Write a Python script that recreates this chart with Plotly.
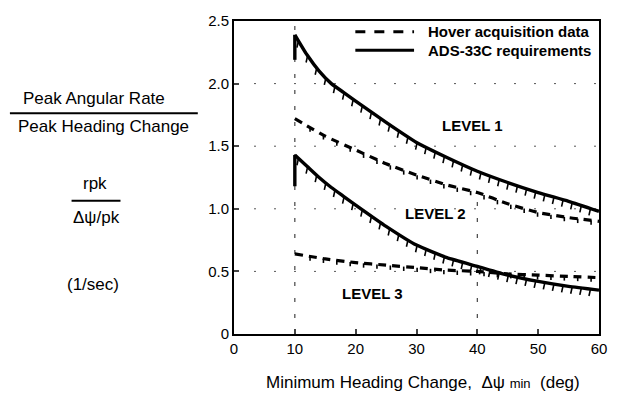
import numpy as np
import plotly.graph_objects as go

# ---- data ----
req_x = [10, 12, 14, 16, 18, 20, 25, 30, 35, 40, 45, 50, 55, 60]
level1_req = [2.39, 2.23, 2.10, 2.00, 1.93, 1.86, 1.69, 1.53, 1.41, 1.30, 1.21, 1.13, 1.06, 0.98]
level2_req = [1.43, 1.34, 1.25, 1.17, 1.10, 1.03, 0.86, 0.71, 0.61, 0.54, 0.47, 0.42, 0.38, 0.35]
level1_start = 2.19
level2_start = 1.18

hover_x = [10, 15, 20, 25, 30, 35, 40, 45, 50, 55, 60]
hover_upper = [1.72, 1.58, 1.47, 1.36, 1.27, 1.19, 1.13, 1.04, 0.97, 0.93, 0.90]
hover_lower = [0.64, 0.60, 0.57, 0.55, 0.53, 0.51, 0.50, 0.48, 0.47, 0.46, 0.45]

x_ticks = [0, 10, 20, 30, 40, 50, 60]
y_ticks = [0, 0.5, 1.0, 1.5, 2.0, 2.5]
y_tick_text = ["0", "0.5", "1.0", "1.5", "2.0", "2.5"]

FONT = "Liberation Sans, Arial, sans-serif"
fig = go.Figure()


def hatch(xs, ys, step, length, x0=10.6, x1=60, slant=0.25):
    hx, hy = [], []
    for xv in np.arange(x0, x1 + 0.01, step):
        yv = float(np.interp(xv, xs, ys))
        hx += [xv, xv - slant, None]
        hy += [yv, yv - length, None]
    return hx, hy


# requirement curves (solid, with hatching)
for start, vals in [(level1_start, level1_req), (level2_start, level2_req)]:
    fig.add_trace(go.Scatter(x=[req_x[0], req_x[0]], y=[start, vals[0]], mode="lines",
                             line=dict(color="black", width=3.4),
                             showlegend=False, hoverinfo="skip"))
    fig.add_trace(go.Scatter(x=req_x, y=vals, mode="lines",
                             line=dict(color="black", width=3.4, shape="spline", smoothing=0.5),
                             showlegend=False, hoverinfo="skip"))
    hx, hy = hatch(req_x, vals, 1.5, 0.055)
    fig.add_trace(go.Scatter(x=hx, y=hy, mode="lines", line=dict(color="black", width=1.6),
                             showlegend=False, hoverinfo="skip"))

# hover acquisition data (dashed, with small ticks)
for vals in [hover_upper, hover_lower]:
    fig.add_trace(go.Scatter(x=hover_x, y=vals, mode="lines",
                             line=dict(color="black", width=3.2, dash="8px,6px", shape="spline", smoothing=0.5),
                             showlegend=False, hoverinfo="skip"))
    hx, hy = hatch(hover_x, vals, 2.2, 0.035, x0=12.5, slant=0.0)
    fig.add_trace(go.Scatter(x=hx, y=hy, mode="lines", line=dict(color="black", width=1.6),
                             showlegend=False, hoverinfo="skip"))

shapes = []
# sparse dotted gridlines
for yv in [0.5, 1.0, 1.5, 2.0]:
    shapes.append(dict(type="line", xref="x", yref="y", x0=0, x1=60, y0=yv, y1=yv,
                       line=dict(color="#555", width=1, dash="2px,18px"), layer="below"))
for xv, ytop in [(10, 2.5), (40, 1.15)]:
    shapes.append(dict(type="line", xref="x", yref="y", x0=xv, x1=xv, y0=0, y1=ytop,
                       line=dict(color="#444", width=1.2, dash="4px,12px"), layer="below"))

# legend samples
shapes.append(dict(type="line", xref="paper", yref="paper", x0=(358 - 234) / 373, x1=(418 - 234) / 373,
                   y0=(334 - 23) / 322, y1=(334 - 23) / 322, line=dict(color="black", width=3, dash="10px,9px")))
shapes.append(dict(type="line", xref="paper", yref="paper", x0=(358 - 234) / 373, x1=(418 - 234) / 373,
                   y0=(334 - 42) / 322, y1=(334 - 42) / 322, line=dict(color="black", width=3)))

# left label fraction lines
shapes.append(dict(type="line", xref="paper", yref="paper", x0=(5 - 234) / 373, x1=(197 - 234) / 373,
                   y0=(334 - 107) / 322, y1=(334 - 107) / 322, line=dict(color="black", width=2)))
shapes.append(dict(type="line", xref="paper", yref="paper", x0=(68 - 234) / 373, x1=(118 - 234) / 373,
                   y0=(334 - 197) / 322, y1=(334 - 197) / 322, line=dict(color="black", width=2)))


def px_ann(text, x, y, size=12, bold=False, xanchor="center"):
    return dict(text=("<b>%s</b>" % text) if bold else text, xref="paper", yref="paper",
                x=(x - 234) / 373, y=(334 - y) / 322, xanchor=xanchor, yanchor="middle",
                showarrow=False, font=dict(family=FONT, size=size, color="black"))


annotations = [
    px_ann("Hover acquisition data", 430, 23, 15, True, "left"),
    px_ann("ADS-33C requirements", 430, 42, 15, True, "left"),
    px_ann("LEVEL 1", 478, 119, 15, True),
    px_ann("LEVEL 2", 440, 210, 15, True),
    px_ann("LEVEL 3", 376, 292, 15, True),
    px_ann("Peak Angular Rate", 91, 92, 17),
    px_ann("Peak Heading Change", 101, 121, 17),
    px_ann("rpk", 92, 179, 17),
    px_ann("Δψ/pk", 93, 214, 17),
    px_ann("(1/sec)", 90, 283, 17),
    px_ann("Minimum Heading Change,  Δψ <span style='font-size:13px'>min</span>  (deg)", 427, 384, 17),
]

fig.update_layout(
    width=619, height=400,
    margin=dict(l=234, r=12, t=12, b=66),
    paper_bgcolor="white", plot_bgcolor="white",
    font=dict(family=FONT, size=15, color="black"),
    shapes=shapes, annotations=annotations,
    xaxis=dict(range=[0, 60], tickvals=x_ticks, ticks="inside", ticklen=5, tickwidth=1.5,
               showgrid=False, zeroline=False, showline=True, linecolor="black", linewidth=2,
               mirror=True, tickfont=dict(size=15, family=FONT)),
    yaxis=dict(range=[0, 2.5], tickvals=y_ticks, ticktext=y_tick_text, ticks="inside",
               ticklen=5, tickwidth=1.5, showgrid=False, zeroline=False, showline=True,
               linecolor="black", linewidth=2, mirror=True, tickfont=dict(size=15, family=FONT)),
)

fig.write_html("out.html")
